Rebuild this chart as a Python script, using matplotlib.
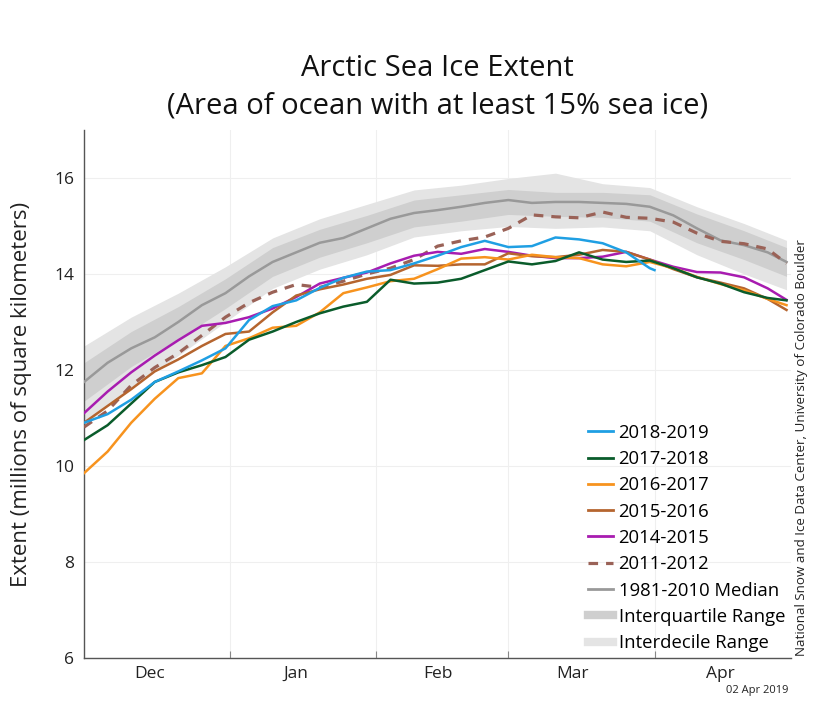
import matplotlib
matplotlib.use('Agg')
import matplotlib.pyplot as plt
from matplotlib.lines import Line2D

plt.rcParams['font.family'] = ['Open Sans', 'DejaVu Sans']

# days since Dec 1
days = [0, 5, 10, 15, 20, 25, 30, 35, 40, 45, 50, 55, 60, 65, 70, 75, 80, 85,
        90, 95, 100, 105, 110, 115, 120, 125, 130, 135, 140, 145, 149]

median = [11.75, 12.15, 12.45, 12.68, 13.0, 13.35, 13.6, 13.95, 14.25, 14.45, 14.65,
          14.75, 14.95, 15.15, 15.27, 15.33, 15.4, 15.48, 15.54, 15.48, 15.5, 15.5,
          15.48, 15.46, 15.4, 15.22, 14.95, 14.7, 14.6, 14.45, 14.25]

y2011 = [10.81, 11.15, 11.68, 12.05, 12.35, 12.72, 13.1, 13.4, 13.62, 13.78, 13.72,
         13.85, 14.0, 14.12, 14.3, 14.58, 14.69, 14.77, 14.95, 15.23, 15.19, 15.17,
         15.29, 15.18, 15.16, 15.08, 14.85, 14.68, 14.63, 14.52, 14.22]

y2014 = [11.1, 11.55, 11.95, 12.3, 12.62, 12.92, 12.98, 13.1, 13.28, 13.52, 13.8,
         13.92, 14.03, 14.22, 14.38, 14.46, 14.42, 14.52, 14.46, 14.38, 14.33, 14.33,
         14.36, 14.46, 14.3, 14.15, 14.04, 14.03, 13.93, 13.7, 13.46]

y2015 = [10.9, 11.25, 11.6, 11.97, 12.22, 12.5, 12.75, 12.8, 13.2, 13.55, 13.68,
         13.78, 13.9, 13.98, 14.18, 14.17, 14.2, 14.2, 14.43, 14.37, 14.35, 14.4,
         14.5, 14.46, 14.3, 14.1, 13.93, 13.82, 13.7, 13.48, 13.25]

y2016 = [9.85, 10.3, 10.9, 11.4, 11.83, 11.93, 12.5, 12.66, 12.88, 12.92, 13.2,
         13.6, 13.72, 13.85, 13.9, 14.1, 14.32, 14.35, 14.3, 14.4, 14.35, 14.33,
         14.2, 14.16, 14.25, 14.12, 13.94, 13.79, 13.66, 13.48, 13.35]

y2017 = [10.54, 10.85, 11.3, 11.75, 11.95, 12.1, 12.27, 12.63, 12.8, 13.0, 13.18,
         13.32, 13.42, 13.88, 13.8, 13.82, 13.9, 14.08, 14.26, 14.2, 14.27, 14.45,
         14.3, 14.25, 14.28, 14.12, 13.93, 13.8, 13.62, 13.5, 13.45]

days2018 = [0, 5, 10, 15, 20, 25, 30, 35, 40, 45, 50, 55, 60, 65, 70, 75, 80, 85,
            90, 95, 100, 105, 110, 115, 120, 121]
y2018 = [10.9, 11.08, 11.38, 11.75, 11.97, 12.2, 12.45, 13.04, 13.33, 13.45, 13.71,
         13.92, 14.05, 14.08, 14.22, 14.38, 14.56, 14.69, 14.56, 14.58, 14.76, 14.72,
         14.64, 14.45, 14.12, 14.08]

# ranges
band_days = [0, 10, 20, 30, 40, 50, 60, 70, 80, 90, 100, 110, 120, 130, 140, 149]
iqr_hi = [12.15, 12.8, 13.32, 13.9, 14.55, 14.93, 15.22, 15.54, 15.65, 15.76, 15.7,
          15.7, 15.65, 15.25, 14.9, 14.55]
iqr_lo = [11.35, 12.07, 12.65, 13.28, 13.95, 14.35, 14.65, 14.98, 15.1, 15.24, 15.2,
          15.18, 15.1, 14.65, 14.3, 13.95]
idr_hi = [12.5, 13.1, 13.6, 14.15, 14.75, 15.15, 15.45, 15.75, 15.85, 15.99, 16.1,
          15.88, 15.8, 15.4, 15.05, 14.7]
idr_lo = [10.85, 11.65, 12.3, 13.0, 13.7, 14.1, 14.4, 14.77, 14.9, 14.99, 14.95,
          14.98, 14.9, 14.4, 14.0, 13.67]

month_starts = [31, 62, 90, 121]
month_mid = [14, 45, 75, 103.5, 135]
month_names = ['Dec', 'Jan', 'Feb', 'Mar', 'Apr']

c_idr = '#e4e4e4'
c_iqr = '#cfcfcf'
c_med = '#999999'

fig = plt.figure(figsize=(8.32, 7.18), dpi=100)
ax = fig.add_axes([0.101, 0.0836, 0.85, 0.7354])

ax.fill_between(band_days, idr_lo, idr_hi, color=c_idr, lw=0, zorder=1)
ax.fill_between(band_days, iqr_lo, iqr_hi, color=c_iqr, lw=0, zorder=2)
ax.plot(days, median, color=c_med, lw=1.8, zorder=3)

ax.plot(days, y2011, color='#9a6257', lw=2.3, ls=(0, (3, 2.5)), zorder=4)
ax.plot(days, y2014, color='#a81cb0', lw=1.8, zorder=5)
ax.plot(days, y2015, color='#b5652f', lw=1.8, zorder=5)
ax.plot(days, y2016, color='#f7931e', lw=1.8, zorder=5)
ax.plot(days, y2017, color='#0a5c2b', lw=1.8, zorder=5)
ax.plot(days2018, y2018, color='#1f9fe3', lw=1.8, zorder=6)

ax.set_xlim(0, 150)
ax.set_ylim(6, 17)
ax.set_yticks([6, 8, 10, 12, 14, 16])
ax.set_xticks(month_starts)
ax.set_xticklabels([])
ax.set_xticks(month_mid, minor=True)
ax.set_xticklabels(month_names, minor=True)
ax.tick_params(axis='x', which='major', direction='in', length=5, color='#888888')
ax.tick_params(axis='x', which='minor', length=0, labelsize=12.5, pad=6, labelcolor='#222222')
ax.tick_params(axis='y', length=0, labelsize=12.5, pad=7, labelcolor='#222222')
ax.grid(True, which='major', color='#efefef', lw=0.8)
ax.set_axisbelow(True)
for s in ['top', 'right']:
    ax.spines[s].set_visible(False)
for s in ['left', 'bottom']:
    ax.spines[s].set_color('#555555')
    ax.spines[s].set_linewidth(1)

ax.set_ylabel('Extent (millions of square kilometers)', fontsize=16, labelpad=16, color='#222222')
ax.set_title('Arctic Sea Ice Extent\n(Area of ocean with at least 15% sea ice)',
             fontsize=21, pad=12, linespacing=1.38, color='#111111')

handles = [
    Line2D([], [], color='#1f9fe3', lw=2),
    Line2D([], [], color='#0a5c2b', lw=2),
    Line2D([], [], color='#f7931e', lw=2),
    Line2D([], [], color='#b5652f', lw=2),
    Line2D([], [], color='#a81cb0', lw=2),
    Line2D([], [], color='#9a6257', lw=2.3, ls=(0, (3, 2.5))),
    Line2D([], [], color=c_med, lw=2),
    Line2D([], [], color=c_iqr, lw=6),
    Line2D([], [], color=c_idr, lw=6),
]
labels = ['2018-2019', '2017-2018', '2016-2017', '2015-2016', '2014-2015',
          '2011-2012', '1981-2010 Median', 'Interquartile Range', 'Interdecile Range']
ax.legend(handles, labels, loc='lower right', bbox_to_anchor=(1.007, -0.01), frameon=False,
          fontsize=13.3, handlelength=1.35, handletextpad=0.3, labelspacing=0.45,
          borderaxespad=0.2)

fig.text(0.963, 0.376, 'National Snow and Ice Data Center, University of Colorado Boulder',
         rotation=90, ha='center', va='center', fontsize=9.6, color='#222222')
fig.text(0.948, 0.038, '02 Apr 2019', ha='right', va='center', fontsize=8, color='#222222')

fig.savefig('out.png', dpi=100)
